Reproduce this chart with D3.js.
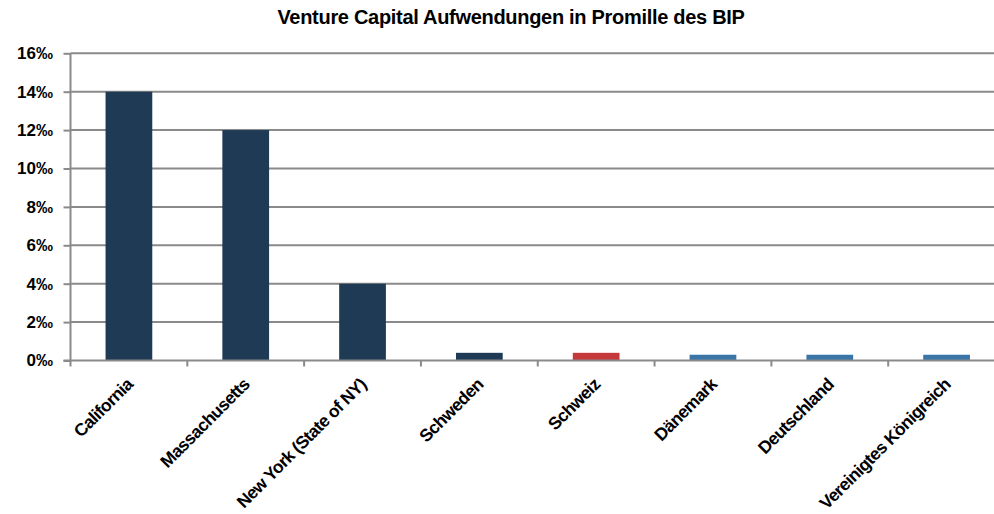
<!DOCTYPE html>
<html lang="de">
<head>
  <meta charset="utf-8">
  <title>Venture Capital</title>
  <style>
  body { margin: 0; background: #fff; }
  svg { font-family: "Liberation Sans", Arial, sans-serif; }
  </style>
  <script src="https://cdn.jsdelivr.net/npm/d3@7"></script>
</head>
<body>
  <div id="chart"></div>
  <script>
    var categories = ["California", "Massachusetts", "New York (State of NY)", "Schweden", "Schweiz", "Dänemark", "Deutschland", "Vereinigtes Königreich"];
    var values = [14, 12, 4, 0.4, 0.4, 0.3, 0.3, 0.3];
    var groups = ["us", "us", "us", "se", "ch", "eu", "eu", "eu"];
    var yTicks = [0, 2, 4, 6, 8, 10, 12, 14, 16];

    var width = 994, height = 514;
    var mLeft = 70.5, mRight = 1005, mTop = 53.3, mBottom = 360.5;

    var colour = d3.scaleOrdinal()
      .domain(["us", "se", "ch", "eu"])
      .range(["#1e3a55", "#1e3a55", "#c6393b", "#3a75a7"]);

    var svg = d3.select("#chart").append("svg")
      .attr("width", width)
      .attr("height", height);

    var x = d3.scaleBand().domain(categories).range([mLeft, mRight]).paddingInner(0.6).paddingOuter(0.3);
    var xStep = d3.scaleBand().domain(categories).range([mLeft, mRight]);
    var y = d3.scaleLinear().domain([0, 16]).range([mBottom, mTop]);

    // gridlines
    svg.append("g").selectAll("line").data(yTicks.slice(1)).join("line")
      .attr("x1", mLeft).attr("x2", mRight)
      .attr("y1", function(d) { return y(d); })
      .attr("y2", function(d) { return y(d); })
      .style("stroke", "#8a8a8a").style("stroke-width", 2);

    // y axis
    var yAxis = svg.append("g")
      .attr("transform", "translate(" + mLeft + ",0)")
      .call(d3.axisLeft(y).tickValues(yTicks).tickSize(7).tickPadding(10.5).tickFormat(function(d) { return d + "\u2030"; }));
    yAxis.select(".domain").remove();
    yAxis.selectAll(".tick line").style("stroke", "#8a8a8a").style("stroke-width", 2);
    yAxis.selectAll(".tick text")
      .style("font-family", "'Liberation Sans', Arial, sans-serif")
      .style("font-size", "17px").style("font-weight", "bold").style("fill", "#000");
    svg.append("line")
      .attr("x1", mLeft).attr("x2", mLeft).attr("y1", mTop).attr("y2", mBottom)
      .style("stroke", "#8a8a8a").style("stroke-width", 2);

    // bars
    svg.append("g").selectAll("rect").data(values).join("rect")
      .attr("x", function(d, i) { return x(categories[i]); })
      .attr("width", x.bandwidth())
      .attr("y", function(d) { return y(d); })
      .attr("height", function(d) { return y(0) - y(d); })
      .style("fill", function(d, i) { return colour(groups[i]); });

    // x axis
    svg.append("line")
      .attr("x1", mLeft - 7).attr("x2", mRight).attr("y1", mBottom).attr("y2", mBottom)
      .style("stroke", "#8a8a8a").style("stroke-width", 2);
    svg.append("g").selectAll("line").data(categories).join("line")
      .attr("x1", function(d) { return xStep(d); })
      .attr("x2", function(d) { return xStep(d); })
      .attr("y1", mBottom).attr("y2", mBottom + 6)
      .style("stroke", "#8a8a8a").style("stroke-width", 2);

    svg.append("g").selectAll("text").data(categories).join("text")
      .attr("transform", function(d) {
        return "translate(" + (xStep(d) + xStep.step() / 2 + 5) + "," + (mBottom + 25) + ") rotate(-45)";
      })
      .attr("text-anchor", "end")
      .style("font-size", "17.5px").style("font-weight", "bold").style("letter-spacing", "-0.6px")
      .text(function(d) { return d; });

    svg.append("text")
      .attr("x", 511).attr("y", 24)
      .attr("text-anchor", "middle")
      .style("font-size", "20px").style("font-weight", "bold").style("letter-spacing", "-0.3px")
      .text("Venture Capital Aufwendungen in Promille des BIP");
  </script>
</body>
</html>
